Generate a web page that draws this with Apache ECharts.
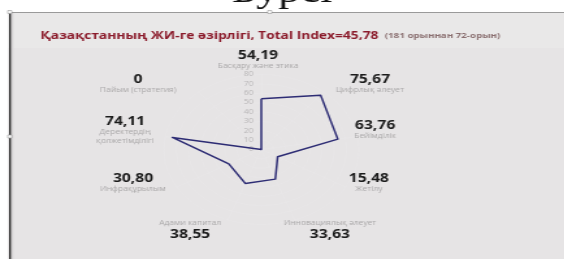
<!DOCTYPE html>
<html lang="kk">
<head>
<meta charset="UTF-8">
<title>ЖИ-ге әзірлік</title>
<script src="https://cdn.jsdelivr.net/npm/echarts@6/dist/echarts.min.js"></script>
<style>
  html, body { margin: 0; padding: 0; background: #fff; overflow: hidden; }
  /* the source picture is a screenshot stretched sideways, so draw narrow and widen */
  #main { width: 434px; height: 259px; transform: scaleX(1.3); transform-origin: 0 0; }
</style>
</head>
<body>
<div id="main"></div>
<script>
// indicators go anticlockwise from the top, as the radar lays them out
var names = ['Басқару және этика', 'Пайым (стратегия)', 'Деректердің\nқолжетімділігі', 'Инфрақұрылым',
  'Адами капитал', 'Инновациялық әлеует', 'Жетілу', 'Бейімділік', 'Цифрлық әлеует'];
var scores = [54.19, 0, 74.11, 30.80, 38.55, 33.63, 15.48, 63.76, 75.67];
var maxScore = 80;
var totalIndex = 45.78;
var rankText = '(181 орыннан 72-орын)';

// layout only: nudge of each label block away from its spoke
var labelShift = [[-2.5, 5.5], [-33.7, 7.3], [-11.2, -3], [-16.4, -14], [-22.3, -8.8],
  [20.3, -8.8], [0.5, -14], [-6, -3], [22.5, 7.3]];
var nameBelow = [4, 5]; // bottom labels show the name above the number

function fmt(v) {
  return v === 0 ? '0' : v.toFixed(2).replace('.', ',');
}

var indicators = names.map(function (n, i) {
  var ox = labelShift[i][0], oy = labelShift[i][1];
  var ind = {
    name: n,
    max: maxScore,
    min: 0,
    nameTextStyle: {
      padding: [Math.max(0, 2 * oy), Math.max(0, -2 * ox), Math.max(0, -2 * oy), Math.max(0, 2 * ox)]
    }
  };
  if (i === 0) ind.axisLabel = { show: true };
  return ind;
});

var myChart = echarts.init(document.getElementById('main'));

var option = {
  backgroundColor: '#ffffff',
  animation: false,
  graphic: [
    { type: 'text', z: -12, left: 'center', top: -24,
      style: { text: 'Бурсі', font: '34px "Liberation Serif", serif', fill: '#111' } },
    { type: 'rect', z: -10, shape: { x: 6, y: 12, width: 430, height: 250 }, style: { fill: '#e6e4e5' } },
    { type: 'rect', z: -9, shape: { x: 6, y: 12, width: 430, height: 36 }, style: { fill: '#e9e8e8' } },
    { type: 'rect', z: -8, shape: { x: 7, y: 13, width: 1.6, height: 250 }, style: { fill: '#222' } },
    { type: 'rect', z: -8, shape: { x: 8.6, y: 13, width: 1.6, height: 250 }, style: { fill: '#d3d1d2' } },
    { type: 'line', z: -8, shape: { x1: 6, y1: 12.5, x2: 436, y2: 12.5 }, style: { stroke: '#9a9a9a', lineWidth: 1 } },
    { type: 'rect', z: -7, shape: { x: 6, y: 10.5, width: 3, height: 3 }, style: { fill: '#fff', stroke: '#999', lineWidth: 0.6 } },
    { type: 'rect', z: -7, shape: { x: 206, y: 10.5, width: 3, height: 3 }, style: { fill: '#fff', stroke: '#999', lineWidth: 0.6 } },
    { type: 'rect', z: -7, shape: { x: 6, y: 135, width: 3, height: 3 }, style: { fill: '#fff', stroke: '#999', lineWidth: 0.6 } }
  ],
  title: {
    text: '{a|Қазақстанның ЖИ-ге әзірлігі, Total Index=' + fmt(totalIndex) + '} {b|' + rankText + '}',
    left: 31,
    top: 27,
    padding: 0,
    textStyle: {
      rich: {
        a: { fontFamily: 'Open Sans', fontSize: 10.6, fontWeight: 'bold', color: '#8b1b2b' },
        b: { fontFamily: 'Open Sans', fontSize: 7.5, color: '#8a6f70' }
      }
    }
  },
  radar: {
    center: [201, 149.5],
    radius: 75,
    startAngle: 90,
    shape: 'circle',
    splitNumber: 8,
    nameGap: 20,
    indicator: indicators,
    axisName: {
      align: 'center',
      verticalAlign: 'middle',
      formatter: function (name) {
        var i = names.indexOf(name);
        var parts = name.split('\n').map(function (s) { return '{n|' + s + '}'; });
        var val = '{v|' + fmt(scores[i]) + '}';
        return nameBelow.indexOf(i) >= 0 ? parts.concat(val).join('\n') : [val].concat(parts).join('\n');
      },
      rich: {
        v: { fontFamily: 'Open Sans', fontSize: 12, fontWeight: 'bold', color: '#1b1b1b', lineHeight: 13, align: 'center' },
        n: { fontFamily: 'Open Sans', fontSize: 6.5, color: '#aaa8a9', lineHeight: 8.5, align: 'center' }
      }
    },
    axisLabel: {
      show: false,
      showMinLabel: true,
      showMaxLabel: true,
      hideOverlap: false,
      fontFamily: 'Open Sans',
      fontSize: 6.5,
      color: '#b9b7b8',
      margin: 6
    },
    axisLine: { lineStyle: { color: '#eae8e9', width: 0.6 } },
    splitLine: { lineStyle: { color: '#eae8e9', width: 0.6 } },
    splitArea: { show: false }
  },
  series: [
    {
      type: 'radar',
      symbol: 'none',
      lineStyle: { color: '#2d2c74', width: 1.5 },
      data: [{ value: scores, name: 'Total' }]
    }
  ]
};
myChart.setOption(option);
</script>
</body>
</html>
